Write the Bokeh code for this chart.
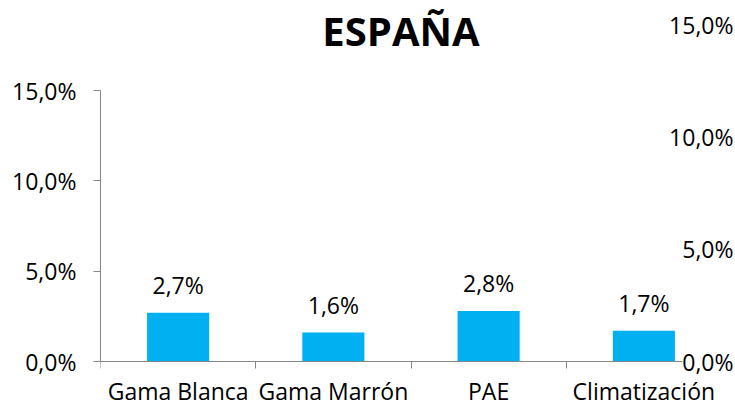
from bokeh.plotting import figure
from bokeh.models import (Range1d, LinearAxis, FixedTicker, Label, ColumnDataSource)
from bokeh.core.properties import value
from bokeh.embed import file_html
from bokeh.resources import INLINE

title_text = "ESPAÑA"
categories = ["Gama Blanca", "Gama Marrón", "PAE", "Climatización"]
values = [2.7, 1.6, 2.8, 1.7]
value_labels = ["2,7%", "1,6%", "2,8%", "1,7%"]
left_ticks = [0, 5, 10, 15]
left_tick_labels = ["0,0%", "5,0%", "10,0%", "15,0%"]
right_ticks = [0, 5, 10, 15]
right_tick_labels = ["0,0%", "5,0%", "10,0%", "15,0%"]

FONT = "Open Sans"
TEXT = "#000000"
AXIS = "#868686"
BAR = "#00B0F0"
FS = "23px"

n = len(categories)
centers = [i + 0.5 for i in range(n)]
edges = list(range(n + 1))

# frame spans the whole canvas (except the left axis) so that the title and
# the secondary-axis labels are not clipped; ranges keep the original scales
x_end = n * 635 / 621
left_min, left_max = -15 * 45 / 271, 15 * 361 / 271
right_min, right_max = -15 * 45 / 337, 15 * 361 / 337

p = figure(x_range=Range1d(0, x_end), y_range=Range1d(left_min, left_max),
           width=735, height=406, output_backend="svg", toolbar_location=None,
           x_axis_location=None, y_axis_location=None,
           min_border_left=100, min_border_right=0, min_border_top=0,
           min_border_bottom=0, outline_line_color=None)
p.grid.visible = False
p.extra_y_ranges = {"right": Range1d(right_min, right_max)}

yaxis = LinearAxis(ticker=FixedTicker(ticks=left_ticks), bounds=(0, 15),
                   major_label_overrides={t: l for t, l in zip(left_ticks, left_tick_labels)},
                   axis_line_color=AXIS, major_tick_line_color=AXIS,
                   major_tick_out=7, major_tick_in=0, minor_tick_line_color=None,
                   major_label_text_font=FONT, major_label_text_font_size=FS,
                   major_label_text_color=TEXT, major_label_standoff=17)
p.add_layout(yaxis, "left")

xaxis = LinearAxis(ticker=FixedTicker(ticks=centers, minor_ticks=edges), bounds=(0, n),
                   fixed_location=0,
                   major_label_overrides={c: l for c, l in zip(centers, categories)},
                   axis_line_color=AXIS, major_tick_line_color=None,
                   major_tick_out=7, major_tick_in=0,
                   minor_tick_line_color=AXIS, minor_tick_out=7, minor_tick_in=0,
                   major_label_text_font=FONT, major_label_text_font_size=FS,
                   major_label_text_color=TEXT, major_label_standoff=6)
p.add_layout(xaxis, "below")

src = ColumnDataSource(dict(x=centers, val=values, lab=value_labels))
p.vbar(x="x", top="val", width=0.4, source=src, fill_color=BAR, line_color=None)
p.text(x="x", y="val", text="lab", source=src, text_align="center",
       text_baseline="alphabetic", y_offset=-28, text_font=value(FONT),
       text_font_size=FS, text_color=TEXT)

for t, l in zip(right_ticks, right_tick_labels):
    p.add_layout(Label(x=n, y=t, y_range_name="right", text=l,
                       text_align="right", text_baseline="middle", x_offset=12,
                       text_font=FONT, text_font_size=FS, text_color=TEXT,
                       background_fill_color="white"))

p.add_layout(Label(x=n / 2, y=14.75, y_range_name="right", x_offset=-10, text=title_text,
                   text_align="center", text_baseline="middle", text_font=FONT,
                   text_font_style="bold", text_font_size="40px", text_color=TEXT))

open("out.html", "w").write(file_html(p, INLINE))
